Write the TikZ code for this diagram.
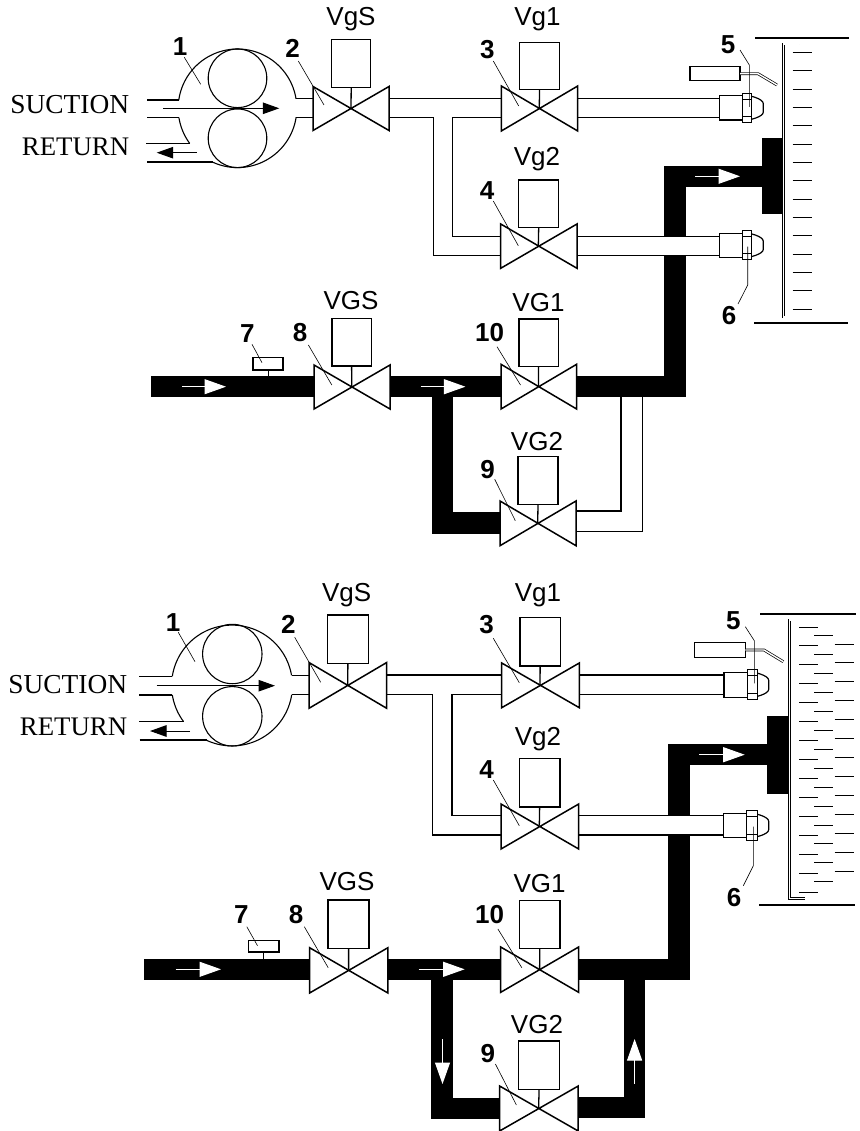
\documentclass[tikz,border=0pt]{standalone}
\usepackage{fontspec}
\setmainfont{Liberation Serif}
\newfontfamily\hvfont{Liberation Sans}
\usetikzlibrary{arrows.meta}
\tikzset{
  pipeline/.style={line width=1.1pt,black},
  blackpipe/.style={fill=black,draw=none},
  valvebody/.style={draw=black,fill=white,line width=1.5pt,line join=miter},
  actbox/.style={draw=black,fill=white,line width=1.5pt,inner sep=0pt,outer sep=0pt},
  stem/.style={line width=1.3pt},
  leaderline/.style={line width=.6pt},
  numlabel/.style={font=\hvfont\bfseries\fontsize{26}{26}\selectfont,inner sep=0pt},
  vlabel/.style={font=\hvfont\fontsize{26}{26}\selectfont,inner sep=0pt,anchor=base},
  sidelabel/.style={font=\fontsize{26.8}{27}\selectfont,inner sep=0pt,anchor=base east},
  sucsize/.style={font=\fontsize{27.4}{27}\selectfont},
  darrow/.style={line width=1pt,-{Triangle[length=16.5pt,width=11.5pt]}},
  warrow/.style={white,line width=1pt,-{Triangle[length=21.5pt,width=15pt]}},
  doubleline/.style={line width=.7pt,double=white,double distance=1.4pt},
  wall/.style={line width=2pt},
  tick/.style={line width=.9pt},
}
\newcommand{\valvebody}[7]{%
  \coordinate (#1-c) at (#2,#3);
  \draw[valvebody] (#4,#6) -- (#5,#7) -- (#5,#6) -- (#4,#7) -- cycle;
}
\newcommand{\valvebox}[6]{% id x1 x2 y1 y2
  \node[actbox,minimum width={(#3-#2)*1pt},minimum height={(#5-#4)*1pt}] (#1-box) at ({(#2+#3)/2},{(#4+#5)/2}) {};
  \draw[stem] (#1-box.south) -- (#1-c);
}
\newcommand{\callout}[8]{% id text lx ly sx sy ex ey
  \node[numlabel] (#1) at (#3,#4) {#2};
  \coordinate (#1-s) at (#5,#6);
  \coordinate (#1-e) at (#7,#8);
}
\newcommand{\leader}[1]{\draw[leaderline] (#1-s) -- (#1-e);}
\newcommand{\sensor}[7]{% id x1 x2 x3 x4 rt rb
  \draw[valvebody,line width=1.2pt] (#3,{#6-0.7}) .. controls ({#3+6.5},{#6-0.7}) and (#5,{#6+3}) .. (#5,{#6+8})
     -- (#5,{#7-8}) .. controls (#5,{#7-3}) and ({#3+6.5},{#7+0.5}) .. (#3,{#7+0.5});
  \draw[valvebody,line width=1.2pt] (#2,#6) rectangle (#3,#7);
  \draw[valvebody,line width=1.2pt] (#3,{#6-2.5}) rectangle (#4,{#7+2.5});
  \draw[line width=1pt] (#3,{#6+3.5}) -- (#4,{#6+3.5}) (#3,{#7-3.5}) -- (#4,{#7-3.5});
}
\newcommand{\arcpx}[5]{% cx cy r a b
  \draw[pipeline] plot[domain=#4:#5,samples=70] ({#1+#3*cos(\x)},{#2+#3*sin(\x)});
}
\begin{document}
\begin{tikzpicture}[x=1pt,y=-1pt]
\path[use as bounding box,fill=white] (0,0) rectangle (859,1131);

%%%%%%%%%%%% UPPER DIAGRAM %%%%%%%%%%%%
\fill[blackpipe] (151,376) rectangle (320,397.3);
\fill[blackpipe] (385,376) rectangle (505,397.3);
\fill[blackpipe] (572,376) rectangle (685.7,397.3);
\fill[blackpipe] (664.3,165.7) rectangle (685.7,397.3);
\fill[blackpipe] (664.3,165.7) rectangle (765,187);
\fill[blackpipe] (761.7,137.7) rectangle (782.7,214);
\fill[blackpipe] (432,390) rectangle (453.4,534.3);
\fill[blackpipe] (432,512.3) rectangle (505,534.3);
\fill[white] (660,236.3) rectangle (690,255.3);
\draw[pipeline] (389,98.7) -- (501,98.7);
\draw[pipeline] (389,117.3) -- (433.7,117.3) -- (433.7,255.3) -- (501,255.3);
\draw[pipeline] (501,117.3) -- (452.7,117.3) -- (452.7,236.3) -- (501,236.3);
\draw[pipeline] (577,98.7) -- (720,98.7) (577,117.3) -- (720,117.3);
\draw[pipeline] (577,236.3) -- (720,236.3) (577,255.3) -- (720,255.3);
\draw[pipeline] (576,511) -- (621,511) -- (621,397.3);
\draw[pipeline] (576,531.7) -- (642.4,531.7) -- (642.4,397.3);
\draw[pipeline] (237.5,78.3) circle[radius=29.3];
\draw[pipeline] (237.5,138.3) circle[radius=29.3];
\arcpx{237.5}{108.3}{59.3}{188}{350.7}
\arcpx{237.5}{108.3}{59.3}{8.7}{114.5}
\arcpx{237.5}{108.3}{59.3}{143.8}{170.9}
\draw[pipeline] (147,100) -- (178.8,100);
\draw[pipeline] (147,117.7) -- (179,117.7);
\draw[pipeline] (146,143.3) -- (189.7,143.3);
\draw[pipeline] (147,162) -- (213,162);
\draw[pipeline] (296,98.7) -- (313,98.7) (296,117.3) -- (313,117.3);
\draw[darrow] (163,108.3) -- (279.3,108.3);
\draw[darrow] (196.7,152.7) -- (156.7,152.7);
\node[sidelabel,sucsize] (suctionA) at (129.3,113.3) {SUCTION};
\node[sidelabel] (returnA) at (129.3,155.7) {RETURN};
\valvebody{a2}{351}{108.3}{313}{389}{86.5}{130.5}
\valvebox{a2}{331.7}{370.7}{39.7}{87.3}{}{}
\valvebody{a3}{539.3}{108.3}{501.3}{577.7}{86}{131}
\valvebox{a3}{519.7}{559.3}{42.3}{89.3}{}{}
\valvebody{a4}{538.3}{246}{500.7}{577}{224}{268.3}
\valvebox{a4}{518.7}{558.7}{180}{227.3}{}{}
\valvebody{a8}{351.8}{386.7}{314}{390}{365}{409}
\valvebox{a8}{331.8}{371.4}{318.3}{366}{}{}
\valvebody{a10}{538.4}{386.7}{501}{576.6}{364.3}{409}
\valvebox{a10}{518.8}{558.4}{319}{366.3}{}{}
\valvebody{a9}{537.7}{523.3}{500}{576}{501}{545.7}
\valvebox{a9}{518}{558}{456.7}{504.3}{}{}
\node[vlabel] (vgsA) at (351,26) {VgS};
\node[vlabel] (vg1A) at (537.5,26) {Vg1};
\node[vlabel] (vg2A) at (537,166) {Vg2};
\node[vlabel] (VGSA) at (351,309.3) {VGS};
\node[vlabel] (VG1A) at (538.5,312) {VG1};
\node[vlabel] (VG2A) at (537,450) {VG2};
\sensor{s5A}{719.3}{742.7}{751.7}{763.3}{95.7}{120}
\sensor{s6A}{719.3}{742.7}{751.7}{763.3}{233.3}{257.3}
\node[actbox,line width=1.1pt,minimum width=50pt,minimum height=14pt] (ignA) at (715,73.7) {};
\coordinate (ignA-k) at (758,73.7);
\coordinate (ignA-t) at (777,85);
\draw[doubleline] (ignA.east) -- (ignA-k) -- (ignA-t);
\draw[wall] (755,38) -- (849,38) (754,323) -- (848,323);
\draw[doubleline] (799,44) -- (783.7,44) -- (783.7,317) -- (798,317);
\foreach \i in {0,...,14} \draw[tick] (792.7,{52.3+18.34*\i}) -- (811.7,{52.3+18.34*\i});
\draw[warrow] (182,386.7) -- (226,386.7);
\draw[warrow] (420.6,386.7) -- (465.4,386.7);
\draw[warrow] (695,176.3) -- (740,176.3);
\node[actbox,line width=1.2pt,minimum width=30pt,minimum height=12.3pt] (tapA) at (268,363.8) {};
\coordinate (tapA-p) at (268,376);
\draw[stem,line width=1pt] (tapA.south) -- (tapA-p);
\callout{c1A}{1}{180}{46.7}{184.3}{57.3}{200.7}{84.3}\leader{c1A}
\callout{c2A}{2}{292.7}{48.3}{298.3}{61}{324}{105}\leader{c2A}
\callout{c3A}{3}{487.3}{49.3}{493.3}{61}{518.7}{106}\leader{c3A}
\callout{c4A}{4}{487}{190.7}{493.3}{201}{518.3}{245.7}\leader{c4A}
\callout{c7A}{7}{247.4}{333.3}{252}{344.3}{262}{362.7}\leader{c7A}
\callout{c8A}{8}{300}{332.3}{308.4}{345}{331.8}{385}\leader{c8A}
\callout{c10A}{10}{489.5}{332.3}{497}{346.7}{520.5}{385}\leader{c10A}
\callout{c9A}{9}{487.5}{470}{494.7}{479.3}{515.3}{520.7}\leader{c9A}
\node[numlabel] (c5A) at (728,45) {5};
\coordinate (c5A-s) at (740,50);
\coordinate (c5A-m) at (749.3,65);
\coordinate (c5A-e) at (749.3,107);
\draw[leaderline] (c5A-s) -- (c5A-m) -- (c5A-e);
\node[numlabel] (c6A) at (729,316) {6};
\coordinate (c6A-s) at (738,304);
\coordinate (c6A-m) at (747.7,285);
\coordinate (c6A-e) at (747.7,246.7);
\draw[leaderline] (c6A-s) -- (c6A-m) -- (c6A-e);

%%%%%%%%%%%% LOWER DIAGRAM %%%%%%%%%%%%
\fill[blackpipe] (144.3,959) rectangle (316,980.3);
\fill[blackpipe] (381,959) rectangle (506,980.3);
\fill[blackpipe] (572,959) rectangle (690,980.3);
\fill[blackpipe] (668.3,743.7) rectangle (689.7,980.3);
\fill[blackpipe] (668.3,743.7) rectangle (770,765.3);
\fill[blackpipe] (767.3,715.7) rectangle (788.7,793.7);
\fill[blackpipe] (431,970) rectangle (452.5,1119.3);
\fill[blackpipe] (431,1098.3) rectangle (505,1119.3);
\fill[blackpipe] (624,970) rectangle (645.4,1118);
\fill[blackpipe] (572,1096.7) rectangle (645.4,1118);
\fill[white] (664,815.7) rectangle (694,835);
\draw[pipeline] (386,675) -- (502,675);
\draw[pipeline] (386,694.7) -- (432.3,694.7) -- (432.3,835) -- (501,835);
\draw[pipeline] (502,694.7) -- (452,694.7) -- (452,815.7) -- (501,815.7);
\draw[pipeline] (579,675) -- (724,675) (579,694.7) -- (724,694.7);
\draw[pipeline] (578,815.7) -- (724,815.7) (578,835) -- (724,835);
\draw[pipeline] (232.3,654) circle[radius=29.7];
\draw[pipeline] (232.3,716.3) circle[radius=29.7];
\arcpx{232}{685.5}{60.4}{188.8}{350.3}
\arcpx{232}{685.5}{60.4}{8.8}{114.9}
\arcpx{232}{685.5}{60.4}{143.5}{171}
\draw[pipeline] (139.3,676.3) -- (172.3,676.3);
\draw[pipeline] (139.3,695) -- (172.3,695);
\draw[pipeline] (139,721.3) -- (183.7,721.3);
\draw[pipeline] (139.7,740) -- (206.7,740);
\draw[pipeline] (292,675.3) -- (309,675.3) (292,694.7) -- (309,694.7);
\draw[darrow] (156.7,685.7) -- (275,685.7);
\draw[darrow] (190,731) -- (150,731);
\node[sidelabel,sucsize] (suctionB) at (127.3,693) {SUCTION};
\node[sidelabel] (returnB) at (127.3,735.7) {RETURN};
\valvebody{b2}{347.7}{685.3}{309}{386.7}{662.5}{708.3}
\valvebox{b2}{327.5}{368.3}{615}{663.3}{}{}
\valvebody{b3}{540}{685.3}{501.7}{579.3}{663}{707.7}
\valvebox{b3}{520}{560.3}{617.7}{666}{}{}
\valvebody{b4}{539.3}{825.7}{501}{578.7}{804}{849}
\valvebox{b4}{519.3}{560}{758.3}{807}{}{}
\valvebody{b8}{348.6}{969.3}{309.6}{387.9}{947.7}{993}
\valvebox{b8}{328.2}{369}{900}{948.3}{}{}
\valvebody{b10}{539.6}{969.3}{500.7}{578.6}{947}{992.3}
\valvebox{b10}{519.6}{560}{900.7}{948.7}{}{}
\valvebody{b9}{538.6}{1108.7}{499.6}{578.2}{1086}{1131}
\valvebox{b9}{518.6}{559.6}{1041}{1089.3}{}{}
\node[vlabel] (vgsB) at (346.7,601.7) {VgS};
\node[vlabel] (vg1B) at (538,601.7) {Vg1};
\node[vlabel] (vg2B) at (538,745) {Vg2};
\node[vlabel] (VGSB) at (347,890) {VGS};
\node[vlabel] (VG1B) at (539.6,892.7) {VG1};
\node[vlabel] (VG2B) at (537,1033.3) {VG2};
\sensor{s5B}{724}{747.3}{757.3}{768.7}{672.3}{697.3}
\sensor{s6B}{723.3}{746.7}{757.3}{768.7}{813.3}{837.7}
\node[actbox,line width=1.1pt,minimum width=51.3pt,minimum height=14.6pt] (ignB) at (719.7,650) {};
\coordinate (ignB-k) at (764,650);
\coordinate (ignB-t) at (783.3,661.7);
\draw[doubleline] (ignB.east) -- (ignB-k) -- (ignB-t);
\draw[wall] (760,614) -- (856,614) (759,904.7) -- (855.3,904.7);
\draw[doubleline] (805.7,620) -- (789.7,620) -- (789.7,898.7) -- (805,898.7);
\foreach \i in {0,...,14} \draw[tick] (799,{627+18.93*\i}) -- (818.3,{627+18.93*\i});
\foreach \i in {0,...,13} \draw[tick] (814,{635.7+18.93*\i}) -- (833.3,{635.7+18.93*\i});
\foreach \i in {0,...,12} \draw[tick] (834.7,{644+18.93*\i}) -- (854,{644+18.93*\i});
\draw[warrow] (175.7,969.3) -- (221,969.3);
\draw[warrow] (418.6,969.3) -- (464.6,969.3);
\draw[warrow] (699.3,754.7) -- (744.7,754.7);
\draw[warrow] (442.5,1039) -- (442.5,1084);
\draw[warrow] (634.6,1083.7) -- (634.6,1039);
\node[actbox,line width=1.2pt,minimum width=30.8pt,minimum height=11.7pt] (tapB) at (263.6,946.2) {};
\coordinate (tapB-p) at (263.6,959);
\draw[stem,line width=1pt] (tapB.south) -- (tapB-p);
\callout{c1B}{1}{173}{622.3}{178.3}{632.3}{195}{661.7}\leader{c1B}
\callout{c2B}{2}{288.3}{624}{294.7}{637.3}{320.7}{682.3}\leader{c2B}
\callout{c3B}{3}{486.7}{625}{493.3}{638.3}{519.3}{682.7}\leader{c3B}
\callout{c4B}{4}{486.7}{769.3}{493.3}{780}{519.3}{825.7}\leader{c4B}
\callout{c7B}{7}{241.4}{915}{246.8}{926.7}{257.5}{945.7}\leader{c7B}
\callout{c8B}{8}{296}{914.3}{304.3}{926.7}{328.2}{967.7}\leader{c8B}
\callout{c10B}{10}{489.6}{914.3}{497.9}{929}{521.8}{967.7}\leader{c10B}
\callout{c9B}{9}{487.9}{1054}{495.4}{1064}{516.4}{1105}\leader{c9B}
\node[numlabel] (c5B) at (733.3,620.7) {5};
\coordinate (c5B-s) at (745.3,626.7);
\coordinate (c5B-m) at (754.3,640.7);
\coordinate (c5B-e) at (754.3,683.3);
\draw[leaderline] (c5B-s) -- (c5B-m) -- (c5B-e);
\node[numlabel] (c6B) at (734,897.3) {6};
\coordinate (c6B-s) at (743.3,885.7);
\coordinate (c6B-m) at (753.3,865.7);
\coordinate (c6B-e) at (753.3,826.7);
\draw[leaderline] (c6B-s) -- (c6B-m) -- (c6B-e);
\end{tikzpicture}
\end{document}
